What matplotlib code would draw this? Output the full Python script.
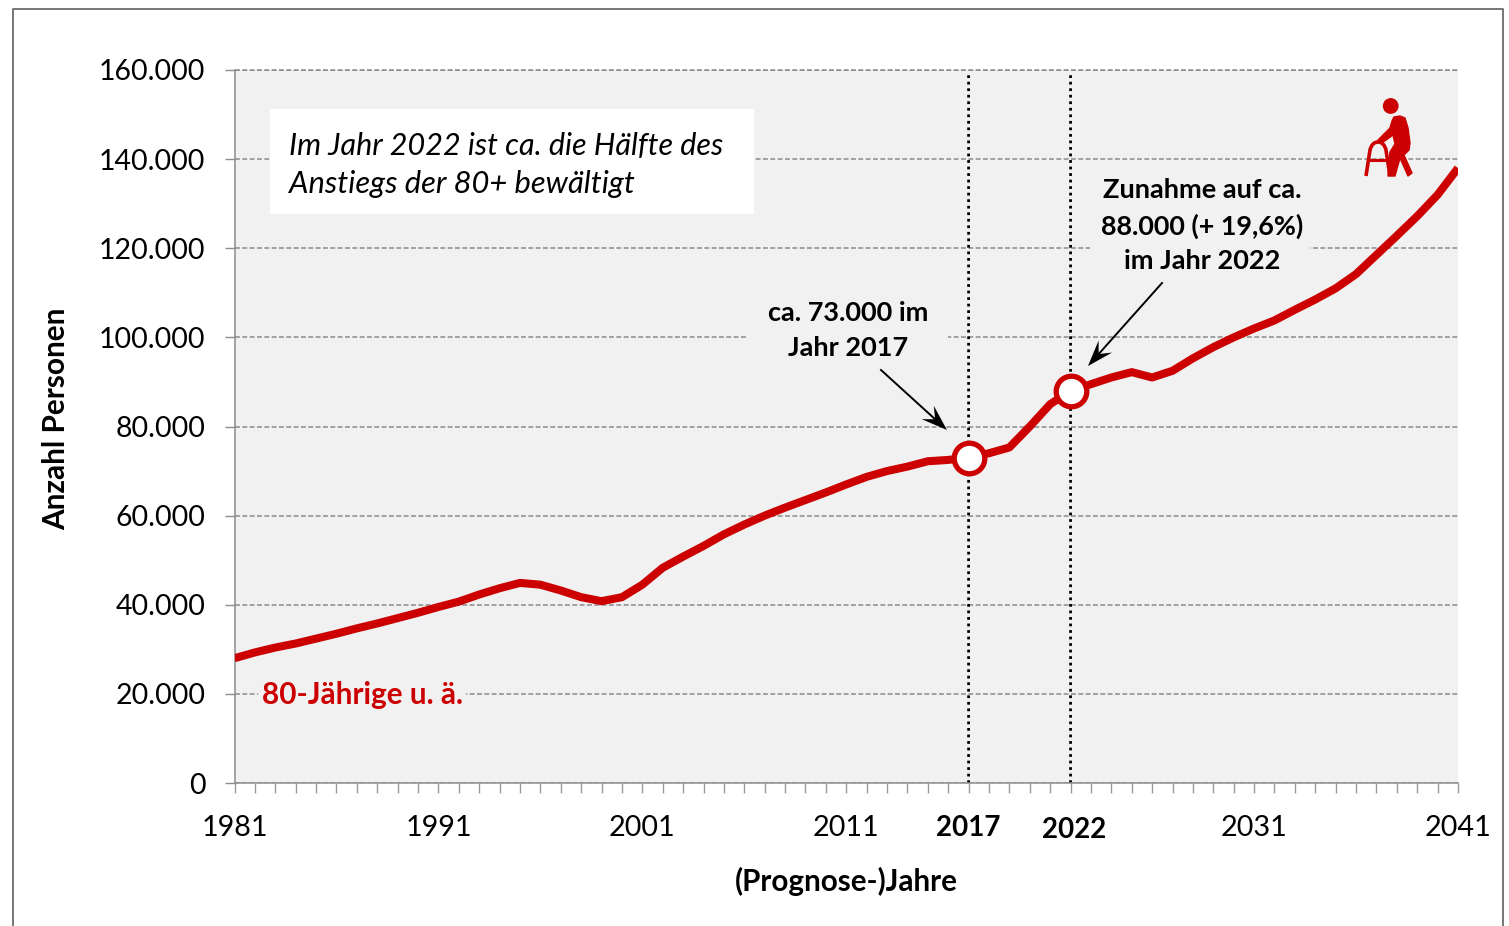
import matplotlib
matplotlib.use("Agg")
import matplotlib.pyplot as plt
import numpy as np
from matplotlib.patches import Rectangle, Circle, PathPatch, Polygon
from matplotlib.path import Path
from matplotlib.transforms import Affine2D

plt.rcParams['font.family'] = ['Lato', 'Open Sans', 'DejaVu Sans']

years = list(range(1981, 2042))
persons = [28000, 29300, 30400, 31300, 32400, 33500, 34700, 35800, 37000, 38200,
           39500, 40700, 42300, 43700, 44900, 44500, 43200, 41700, 40800, 41700,
           44500, 48300, 50800, 53200, 55800, 58000, 60000, 61800, 63500, 65200,
           67000, 68700, 70000, 71000, 72200, 72500, 73000, 74000, 75300, 80000,
           85000, 88000, 89500, 91000, 92200, 91000, 92500, 95300, 97800, 100000,
           102000, 103800, 106200, 108500, 111000, 114200, 118500, 122800, 127200,
           132000, 138000]
highlight_years = [2017, 2022]
highlight_values = [73000, 88000]
y_ticks = [0, 20000, 40000, 60000, 80000, 100000, 120000, 140000, 160000]
y_labels = ['0', '20.000', '40.000', '60.000', '80.000', '100.000', '120.000', '140.000', '160.000']
x_label_years = {1981: '1981', 1991: '1991', 2001: '2001', 2011: '2011', 2017: '2017',
                 2022: '2022', 2031: '2031', 2041: '2041'}

W, H = 1509, 926
RED = '#CC0000'
BG = '#F1F1F1'
fig = plt.figure(figsize=(W / 100, H / 100), dpi=100, facecolor='white')
ax = fig.add_axes([234.5 / W, 1 - 783 / H, (1458 - 234.5) / W, (783 - 70) / H])
ax.set_facecolor(BG)
ax.set_xlim(1981, 2041)
ax.set_ylim(0, 160000)

# pixel coordinates (y down) for decorations
px = Affine2D().scale(1 / W, -1 / H).translate(0, 1) + fig.transFigure

# outer frame (open at the bottom)
fig.add_artist(plt.Line2D([13, 13, 1503, 1503], [926, 9, 9, 926], transform=px,
                          color='#6b6b6b', lw=1.3))

for s in ('top', 'right'):
    ax.spines[s].set_visible(False)
for s in ('left', 'bottom'):
    ax.spines[s].set_color('#8c8c8c')
    ax.spines[s].set_linewidth(1.1)

ax.set_yticks(y_ticks)
ax.set_yticklabels(y_labels, fontsize=20.5)
ax.set_xticks(years)
ax.set_xticklabels([x_label_years.get(y, '') for y in years], fontsize=20.7)
ax.tick_params(axis='y', length=7.5, width=1, color='#8c8c8c', pad=13.5)
ax.tick_params(axis='x', length=7.5, width=1, color='#9a9a9a', pad=15.3)
for tick, y in zip(ax.xaxis.get_major_ticks(), years):
    if y in highlight_years:
        tick.label1.set_fontweight('bold')
        tick.label1.set_fontsize(20)
    if y == 2022:
        tick.set_pad(17)
        tick.label1.set_transform(tick.label1.get_transform() + Affine2D().translate(4, 0))

ax.set_axisbelow(True)
ax.grid(axis='y', color='#8a8a8a', lw=1.1, ls=(0, (3.2, 1.6)), zorder=1)
ax.axhline(y_ticks[-1], color='#8a8a8a', lw=1.1, ls=(0, (3.2, 1.6)), clip_on=False, zorder=1)

for y in highlight_years:
    ln, = ax.plot([y, y], [0, 159000], color='black', lw=2, ls=(0, (1, 1.35)), zorder=2)
    ln.set_snap(False)

# patches behind texts
for (x0, y0, x1, y1, c) in [(270, 109, 754, 214, 'white'), (748, 295, 948, 365, BG),
                            (1090, 172, 1310, 276, BG), (258, 677, 466, 709, BG)]:
    ax.add_patch(Rectangle((x0, y0), x1 - x0, y1 - y0, transform=px, facecolor=c,
                           edgecolor='none', zorder=2.5))

ax.plot(years, persons, color=RED, lw=5.8, solid_joinstyle='round', solid_capstyle='butt',
        zorder=4)
ax.plot(highlight_years, highlight_values, ls='none', marker='o', ms=22, mfc='white', mec=RED,
        mew=3.8, zorder=5, clip_on=False)

# texts
T = dict(transform=px, zorder=6)
ax.text(289, 146, 'Im Jahr 2022 ist ca. die Hälfte des', style='italic', fontsize=22, va='center', ha='left', **T)
ax.text(289, 184, 'Anstiegs der 80+ bewältigt', style='italic', fontsize=22.2, va='center', ha='left', **T)
ax.text(848, 313, 'ca. 73.000 im', fontweight='bold', fontsize=19.5, va='center', ha='center', **T)
ax.text(848, 348, 'Jahr 2017', fontweight='bold', fontsize=19.5, va='center', ha='center', **T)
ax.text(1202, 190, 'Zunahme auf ca.', fontweight='bold', fontsize=19.6, va='center', ha='center', **T)
ax.text(1202, 226, '88.000 (+ 19,6%)', fontweight='bold', fontsize=19.4, va='center', ha='center', **T)
ax.text(1202, 261, 'im Jahr 2022', fontweight='bold', fontsize=19.5, va='center', ha='center', **T)
ax.text(262, 695, '80-Jährige u. ä.', fontweight='bold', fontsize=21.4, color=RED, va='center', ha='left', **T)

fig.text(56 / W, 1 - 419 / H, 'Anzahl Personen', rotation=90, fontweight='bold', fontsize=21.4, va='center', ha='center')
fig.text(846 / W, 1 - 881 / H, '(Prognose-)Jahre', fontweight='bold', fontsize=21.3, va='center', ha='center')

# arrows with notched heads
for start, end in [((881, 370), (947, 430)), ((1162, 283), (1088, 366))]:
    s, e = np.array(start, float), np.array(end, float)
    d = (e - s) / np.hypot(*(e - s))
    n = np.array([-d[1], d[0]])
    ax.plot([s[0], (e - d * 10)[0]], [s[1], (e - d * 10)[1]], transform=px, color='black', lw=1.4, zorder=6)
    head = [e, e - d * 26 + n * 9, e - d * 16, e - d * 26 - n * 9]
    ax.add_patch(Polygon(head, closed=True, transform=px, facecolor='black', edgecolor='none', zorder=6))

# walker icon
ax.add_patch(Circle((1390.7, 106), 7.2, transform=px, color=RED, zorder=6, clip_on=False))
body = Path([(1392, 121), (1394, 117), (1400, 116), (1405, 118), (1408, 128), (1410, 143),
             (1409, 150), (1404, 155), (1412, 173), (1408, 176), (1400, 158), (1395, 176),
             (1388, 176), (1390, 152), (1395, 144), (1393, 135), (1382, 143), (1378, 140),
             (1390, 128), (1392, 121)])
ax.add_patch(PathPatch(body, transform=px, facecolor=RED, edgecolor=RED, lw=1, joinstyle='round',
                       zorder=6, clip_on=False))
walker = Path([(1366, 176), (1370, 150), (1372, 142), (1378, 142), (1384, 142),
               (1386, 150), (1390, 176)],
              [Path.MOVETO, Path.LINETO, Path.CURVE3, Path.CURVE3, Path.CURVE3, Path.CURVE3, Path.LINETO])
ax.add_patch(PathPatch(walker, transform=px, fill=False, edgecolor=RED, lw=2.6, zorder=6, clip_on=False))
ax.plot([1368, 1389], [160, 160], transform=px, color=RED, lw=2.2, zorder=6, clip_on=False)

fig.savefig('out.png', dpi=100, facecolor='white')
